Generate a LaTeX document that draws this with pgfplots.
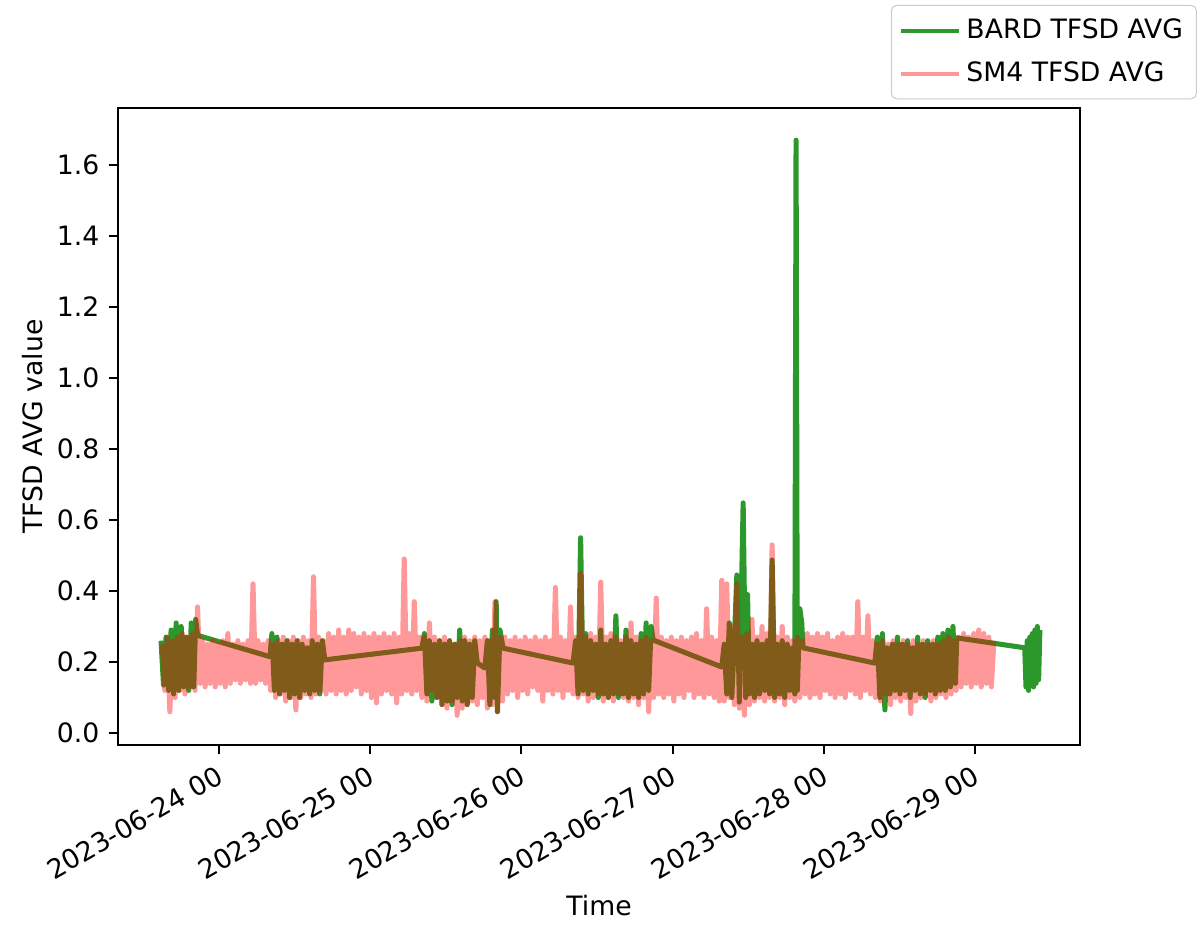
\documentclass[border=0pt]{standalone}
\usepackage{fontspec}
\setmainfont{DejaVu Sans}
\usepackage{pgfplots}
\usepackage{pgfplotstable}
\pgfplotsset{compat=1.18}
\definecolor{bardgreen}{RGB}{44,152,44}
\pgfplotstableread{
h y
-9.2 0.26
-8.8 0.135
-8.4 0.27
-8.0 0.12
-7.6 0.29
-7.2 0.11
-6.8 0.31
-6.4 0.12
-6.0 0.30
-5.6 0.13
-5.2 0.27
-4.8 0.12
-4.4 0.31
-4.0 0.13
-3.7 0.32
-3.4 0.275
8.1 0.215
8.4 0.28
8.8 0.12
9.2 0.27
9.6 0.11
10.0 0.25
10.4 0.12
10.8 0.26
11.2 0.10
11.6 0.25
12.0 0.11
12.4 0.26
12.8 0.10
13.2 0.25
13.6 0.12
14.0 0.24
14.4 0.11
14.8 0.26
15.2 0.12
15.6 0.25
16.0 0.11
16.4 0.26
16.8 0.206
32.2 0.239
32.6 0.28
33.0 0.11
33.4 0.26
33.8 0.09
34.2 0.25
34.6 0.10
35.0 0.26
35.4 0.08
35.8 0.25
36.2 0.09
36.6 0.26
37.0 0.08
37.4 0.25
37.8 0.10
38.2 0.29
38.6 0.09
39.0 0.26
39.4 0.08
39.8 0.25
40.2 0.10
40.6 0.26
41.0 0.197
42.2 0.183
42.6 0.26
43.0 0.08
43.4 0.29
43.8 0.10
44.0 0.37
44.2 0.06
44.6 0.29
45.1 0.239
56.2 0.197
56.6 0.26
57.0 0.11
57.4 0.55
57.8 0.12
58.2 0.28
58.6 0.11
59.0 0.26
59.4 0.12
59.8 0.25
60.2 0.10
60.6 0.29
61.0 0.11
61.4 0.25
61.8 0.10
62.2 0.26
62.6 0.11
63.0 0.33
63.4 0.10
63.8 0.25
64.2 0.11
64.6 0.29
65.0 0.10
65.4 0.26
65.8 0.11
66.2 0.25
66.6 0.10
67.0 0.28
67.4 0.11
67.8 0.31
68.2 0.12
68.6 0.30
68.9 0.262
79.8 0.186
80.2 0.25
80.6 0.11
81.0 0.31
81.4 0.10
81.8 0.26
82.2 0.445
82.6 0.087
83.2 0.648
83.6 0.10
83.9 0.39
84.2 0.11
84.6 0.25
85.0 0.10
85.4 0.26
85.8 0.11
86.2 0.25
86.6 0.12
87.0 0.26
87.4 0.11
87.8 0.487
88.2 0.10
88.6 0.25
89.0 0.11
89.4 0.26
89.8 0.10
90.2 0.25
90.6 0.12
91.0 0.24
91.4 0.11
91.6 1.67
91.8 0.12
92.2 0.35
92.5 0.31
92.7 0.24
104.1 0.197
104.5 0.27
104.9 0.10
105.3 0.28
105.7 0.065
106.1 0.24
106.5 0.11
106.9 0.25
107.3 0.12
107.7 0.27
108.1 0.11
108.5 0.25
108.9 0.12
109.3 0.26
109.7 0.10
110.1 0.24
110.5 0.12
110.9 0.27
111.3 0.11
111.7 0.25
112.1 0.10
112.5 0.26
112.9 0.12
113.3 0.25
113.7 0.11
114.1 0.27
114.5 0.12
114.9 0.28
115.3 0.12
115.7 0.29
116.1 0.13
116.5 0.30
116.9 0.14
117.1 0.268
127.9 0.24
128.1 0.13
128.3 0.26
128.5 0.12
128.7 0.27
128.9 0.14
129.1 0.28
129.3 0.13
129.5 0.29
129.7 0.14
129.9 0.30
130.1 0.15
130.3 0.29
}\bard
\pgfplotstableread{
h y
-9.0 0.25
-8.6 0.12
-8.2 0.27
-7.8 0.06
-7.4 0.26
-7.0 0.10
-6.6 0.27
-6.2 0.12
-5.8 0.28
-5.4 0.11
-5.0 0.27
-4.6 0.13
-4.2 0.28
-3.8 0.12
-3.4 0.355
-3.0 0.14
-2.6 0.26
-2.2 0.13
-1.8 0.25
-1.4 0.14
-1.0 0.26
-0.6 0.13
-0.2 0.25
0.2 0.14
0.6 0.26
1.0 0.13
1.4 0.28
1.8 0.14
2.2 0.25
2.6 0.15
3.0 0.26
3.4 0.14
3.8 0.25
4.2 0.15
4.6 0.26
5.0 0.14
5.4 0.42
5.8 0.14
6.2 0.26
6.6 0.15
7.0 0.25
7.4 0.14
7.8 0.26
8.2 0.12
8.6 0.25
9.0 0.10
9.4 0.26
9.8 0.11
10.2 0.27
10.6 0.09
11.0 0.26
11.4 0.10
11.8 0.27
12.2 0.065
12.6 0.26
13.0 0.10
13.4 0.27
13.8 0.11
14.2 0.26
14.6 0.10
15.0 0.44
15.4 0.11
15.8 0.27
16.2 0.12
16.6 0.26
17.0 0.11
17.4 0.28
17.8 0.12
18.2 0.27
18.6 0.11
19.0 0.29
19.4 0.12
19.8 0.27
20.2 0.11
20.6 0.29
21.0 0.12
21.4 0.28
21.8 0.13
22.2 0.27
22.6 0.11
23.0 0.28
23.4 0.12
23.8 0.27
24.2 0.10
24.6 0.28
25.0 0.085
25.4 0.27
25.8 0.11
26.2 0.28
26.6 0.12
27.0 0.27
27.4 0.11
27.8 0.28
28.2 0.085
28.6 0.27
29.0 0.11
29.4 0.49
29.8 0.12
30.2 0.28
30.6 0.11
31.0 0.37
31.4 0.12
31.8 0.27
32.2 0.10
32.6 0.27
33.0 0.09
33.4 0.31
33.8 0.12
34.2 0.27
34.6 0.10
35.0 0.26
35.4 0.08
35.8 0.27
36.2 0.07
36.6 0.26
37.0 0.09
37.4 0.25
37.8 0.05
38.2 0.26
38.6 0.07
39.0 0.27
39.4 0.08
39.8 0.26
40.2 0.09
40.6 0.27
41.0 0.08
41.4 0.26
41.8 0.10
42.2 0.27
42.6 0.07
43.0 0.26
43.4 0.08
43.8 0.37
44.2 0.06
44.6 0.27
45.0 0.09
45.4 0.27
45.8 0.11
46.2 0.26
46.6 0.12
47.0 0.27
47.4 0.10
47.8 0.26
48.2 0.12
48.6 0.27
49.0 0.11
49.4 0.26
49.8 0.13
50.2 0.27
50.6 0.12
51.0 0.26
51.4 0.09
51.8 0.27
52.2 0.12
52.6 0.26
53.0 0.11
53.4 0.41
53.8 0.12
54.2 0.27
54.6 0.10
55.0 0.26
55.4 0.12
55.8 0.355
56.2 0.11
56.6 0.27
57.0 0.10
57.4 0.45
57.8 0.11
58.2 0.27
58.6 0.09
59.0 0.28
59.4 0.10
59.8 0.27
60.2 0.11
60.6 0.425
61.0 0.09
61.4 0.27
61.8 0.10
62.2 0.28
62.6 0.09
63.0 0.27
63.4 0.11
63.8 0.26
64.2 0.10
64.6 0.27
65.0 0.09
65.4 0.31
65.8 0.10
66.2 0.27
66.6 0.08
67.0 0.26
67.4 0.10
67.8 0.27
68.2 0.06
68.6 0.26
69.0 0.10
69.4 0.38
69.8 0.11
70.2 0.27
70.6 0.10
71.0 0.26
71.4 0.11
71.8 0.27
72.2 0.09
72.6 0.26
73.0 0.11
73.4 0.27
73.8 0.10
74.2 0.26
74.6 0.12
75.0 0.27
75.4 0.10
75.8 0.28
76.2 0.11
76.6 0.26
77.0 0.10
77.4 0.35
77.8 0.11
78.2 0.27
78.6 0.10
79.0 0.26
79.4 0.09
79.8 0.43
80.2 0.09
80.6 0.42
81.0 0.10
81.4 0.30
81.8 0.08
82.2 0.42
82.6 0.07
83.0 0.27
83.4 0.05
83.8 0.28
84.2 0.08
84.6 0.32
85.0 0.09
85.4 0.27
85.8 0.10
86.2 0.30
86.6 0.09
87.0 0.28
87.4 0.10
87.8 0.53
88.2 0.09
88.6 0.27
89.0 0.10
89.4 0.30
89.8 0.08
90.2 0.27
90.6 0.10
91.0 0.26
91.4 0.09
91.8 0.27
92.2 0.10
92.6 0.26
93.0 0.11
93.4 0.28
93.8 0.10
94.2 0.27
94.6 0.11
95.0 0.28
95.4 0.10
95.8 0.27
96.2 0.12
96.6 0.28
97.0 0.11
97.4 0.26
97.8 0.10
98.2 0.27
98.6 0.11
99.0 0.28
99.4 0.10
99.8 0.27
100.2 0.12
100.6 0.27
101.0 0.11
101.4 0.37
101.8 0.10
102.2 0.27
102.6 0.12
103.0 0.33
103.4 0.11
103.8 0.26
104.2 0.10
104.6 0.25
105.0 0.09
105.4 0.26
105.8 0.11
106.2 0.25
106.6 0.08
107.0 0.26
107.4 0.10
107.8 0.25
108.2 0.09
108.6 0.26
109.0 0.10
109.4 0.25
109.8 0.055
110.2 0.26
110.6 0.09
111.0 0.25
111.4 0.10
111.8 0.26
112.2 0.11
112.6 0.25
113.0 0.09
113.4 0.26
113.8 0.10
114.2 0.25
114.6 0.11
115.0 0.26
115.4 0.10
115.8 0.27
116.2 0.11
116.6 0.26
117.0 0.12
117.4 0.27
117.8 0.13
118.2 0.28
118.6 0.14
119.0 0.27
119.4 0.13
119.8 0.28
120.2 0.14
120.6 0.29
121.0 0.13
121.4 0.28
121.8 0.14
122.2 0.27
122.6 0.13
123.0 0.26
}\sm
\begin{document}
\begin{tikzpicture}
\begin{axis}[
  at={(0,0)}, anchor=south west,
  scale only axis, width=360.75pt, height=238.875pt,
  xmin=-16.03, xmax=136.67, ymin=-0.0338, ymax=1.7606,
  axis line style={line width=0.8pt},
  tick align=outside, tick pos=left,
  major tick length=3.5pt,
  tick style={black, line width=0.8pt},
  xtick={0,24,48,72,96,120},
  xticklabels={2023-06-24 00,2023-06-25 00,2023-06-26 00,2023-06-27 00,2023-06-28 00,2023-06-29 00},
  ytick={0,0.2,0.4,0.6,0.8,1.0,1.2,1.4,1.6},
  /pgf/number format/assume math mode=true,
  yticklabel style={/pgf/number format/.cd, fixed, fixed zerofill, precision=1, /tikz/.cd},
  xticklabel style={xshift=-0.6pt, yshift=-0.8pt, rotate=30, anchor=north east, inner sep=2pt},
  every axis y label/.style={at={(axis description cs:-0.079,0.5)}, rotate=90, anchor=base},
  every axis x label/.style={at={(axis description cs:0.5,-0.268)}, anchor=base},
  xlabel={Time}, ylabel={TFSD AVG value},
  legend style={at={(1.1216,1.1620)}, anchor=north east, draw=black!20, rounded corners=2pt,
    fill=white, inner xsep=3pt, inner ysep=3pt, row sep=3.2pt,
    /tikz/every even column/.append style={column sep=7.4pt}},
  legend cell align=left,
  legend image code/.code={\draw[#1, line width=1.5pt] (0pt,0pt) -- (21.7pt,0pt);},
]
\addplot[color=bardgreen, line width=1.9pt, line join=round] table[x=h, y=y] {\bard};
\addlegendentry{BARD TFSD AVG}
\addplot[color=red, opacity=0.4, line width=1.9pt, line join=round] table[x=h, y=y] {\sm};
\addlegendentry{SM4 TFSD AVG}
\end{axis}
\pgfresetboundingbox
\path[use as bounding box] (-44.25pt,-67.5pt) rectangle (405.75pt,279.375pt);
\end{tikzpicture}
\end{document}
